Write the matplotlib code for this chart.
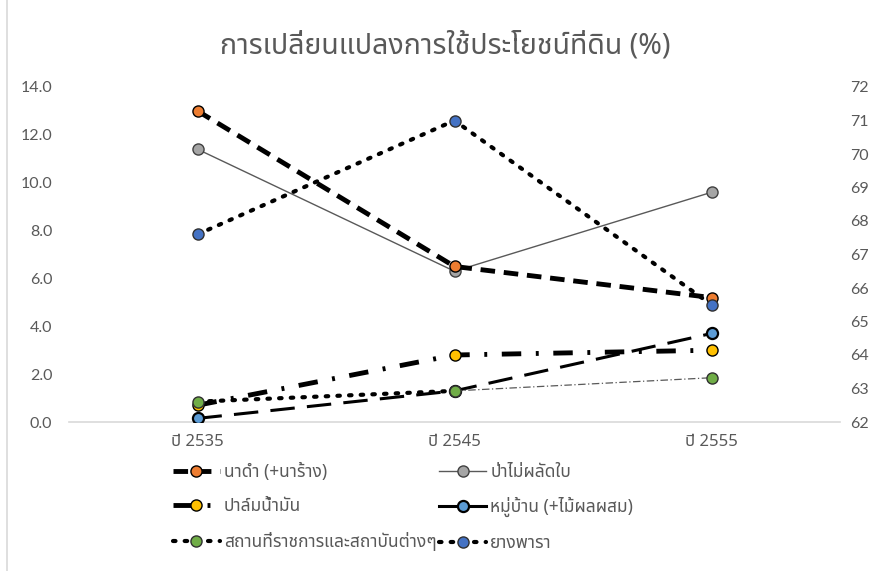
import matplotlib
matplotlib.use("Agg")
import matplotlib.pyplot as plt
from matplotlib import font_manager as fm
from matplotlib.ft2font import FT2Font
from matplotlib.lines import Line2D

# ---------------- data ----------------
years = ["ปี 2535", "ปี 2545", "ปี 2555"]
na_dam = [13.0, 6.5, 5.2]            # นาดำ (+นาร้าง)
pa_mai = [11.4, 6.3, 9.6]            # ป่าไม่ผลัดใบ
palm = [0.7, 2.8, 3.0]               # ปาล์มน้ำมัน
village = [0.15, 1.3, 3.7]           # หมู่บ้าน (+ไม้ผลผสม)
gov = [0.85, 1.3, 1.85]              # สถานที่ราชการและสถาบันต่างๆ
rubber = [67.6, 71.0, 65.5]          # ยางพารา (right axis)
labels = ["นาดำ (+นาร้าง)", "ป่าไม่ผลัดใบ", "ปาล์มน้ำมัน",
          "หมู่บ้าน (+ไม้ผลผสม)", "สถานที่ราชการและสถาบันต่างๆ", "ยางพารา"]
title = "การเปลี่ยนแปลงการใช้ประโยชน์ที่ดิน (%)"
left_ticks = [0, 2, 4, 6, 8, 10, 12, 14]
right_ticks = list(range(62, 73))

# ---------------- fonts ----------------
def find_thai():
    found = []
    for f in fm.fontManager.ttflist:
        try:
            cm = FT2Font(f.fname).get_charmap()
            if 0x0E01 in cm and 0x0E49 in cm:
                found.append(f.name)
        except Exception:
            pass
    pref = ["Tahoma", "Leelawadee UI", "Leelawadee", "Noto Sans Thai", "Noto Sans Thai UI",
            "Loma", "Garuda", "Sarabun", "TH Sarabun New", "Norasi", "Kinnari"]
    for p in pref:
        if p in found:
            return p
    return found[0] if found else None

thai = find_thai()
fam = ([thai] if thai else []) + ["DejaVu Sans"]
numfam = ["Lato", "DejaVu Sans"]
plt.rcParams['font.family'] = fam

gray_txt = "#595959"

fig = plt.figure(figsize=(8.76, 5.71), dpi=100)
ax = fig.add_axes([69/876, 1-422/571, (840-69)/876, (422-87)/571])
ax2 = ax.twinx()

x = list(range(len(years)))

st_nadam = dict(color="black", lw=3.5, ls=(0, (3, 1.8)), marker="o", ms=8,
                mfc="#ED7D31", mec="black", mew=1.0)
st_pamai = dict(color="#595959", lw=1.0, marker="o", ms=8,
                mfc="#A5A5A5", mec="#404040", mew=1.0)
st_palm = dict(color="black", lw=3.5, ls=(0, (4, 3, 0.6, 3)), marker="o", ms=8,
               mfc="#FFC000", mec="black", mew=1.0)
st_vill = dict(color="black", lw=2.2, ls=(0, (8, 4)), marker="o", ms=8,
               mfc="#5B9BD5", mec="black", mew=1.6)
st_gov = dict(color="black", lw=3.0, ls=(0, (0.6, 2.2)), dash_capstyle="round",
              marker="o", ms=8, mfc="#70AD47", mec="#303030", mew=1.0)
st_rub = dict(color="black", lw=3.0, ls=(0, (0.6, 2.2)), dash_capstyle="round",
              marker="o", ms=8, mfc="#4472C4", mec="#303030", mew=1.0)

ax.plot(x, pa_mai, zorder=3, **st_pamai)
ax.plot(x, na_dam, zorder=4, **st_nadam)
ax.plot(x, palm, zorder=4, **st_palm)
ax.plot(x, village, zorder=4, **st_vill)
ax.plot(x[:2], gov[:2], color="black", lw=3.0, ls=(0, (0.6, 2.2)), dash_capstyle="round",
        zorder=4)
ax.plot(x[1:], gov[1:], color="#595959", lw=0.9, ls=(0, (6, 2, 1, 2)), zorder=4)
ax.plot(x, gov, ls="none", marker="o", ms=8, mfc="#70AD47", mec="#303030", mew=1.0, zorder=5)

ax2.plot(x, rubber, zorder=4, **st_rub)

ax.set_xlim(-0.5, 2.5)
ax.set_ylim(0, 14)
ax2.set_ylim(62, 72)
ax.set_yticks(left_ticks)
ax.set_yticklabels([f"{v:.1f}" for v in left_ticks], fontsize=11.5, color=gray_txt, family=numfam)
ax2.set_yticks(right_ticks)
ax2.set_yticklabels([str(v) for v in right_ticks], fontsize=11.5, color=gray_txt, family=numfam)
ax.set_xticks(x)
ax.set_xticklabels(years, fontsize=12, color=gray_txt)

for a in (ax, ax2):
    for s in a.spines.values():
        s.set_visible(False)
    a.tick_params(length=0)
ax.spines['bottom'].set_visible(True)
ax.spines['bottom'].set_color("#D9D9D9")
ax.spines['bottom'].set_linewidth(1.2)
ax.tick_params(axis='y', pad=12)
ax.tick_params(axis='x', pad=9)
ax2.tick_params(axis='y', pad=7)

fig.text(445/876, 1-46/571, title, ha="center", va="center", fontsize=20.5, color=gray_txt)

# legend (row-major order as in reference: matplotlib fills columns first)
h = [Line2D([], [], **st_nadam), Line2D([], [], **st_pamai), Line2D([], [], **st_palm),
     Line2D([], [], **{**st_vill, "ls": "-"}), Line2D([], [], **st_gov), Line2D([], [], **st_rub)]
order = [0, 2, 4, 1, 3, 5]
leg = fig.legend([h[i] for i in order], [labels[i] for i in order], ncol=2, loc="upper left",
                 bbox_to_anchor=(157/876, 1-447/571),
                 frameon=False, fontsize=12.5, handlelength=2.7, handletextpad=0.25,
                 columnspacing=0.15, labelspacing=0.95, labelcolor=gray_txt)

# chart frame (left edge visible)
fig.add_artist(Line2D([7/876, 7/876], [0, 1], transform=fig.transFigure, color="#D9D9D9", lw=1.2))

fig.savefig("out.png", dpi=100)
